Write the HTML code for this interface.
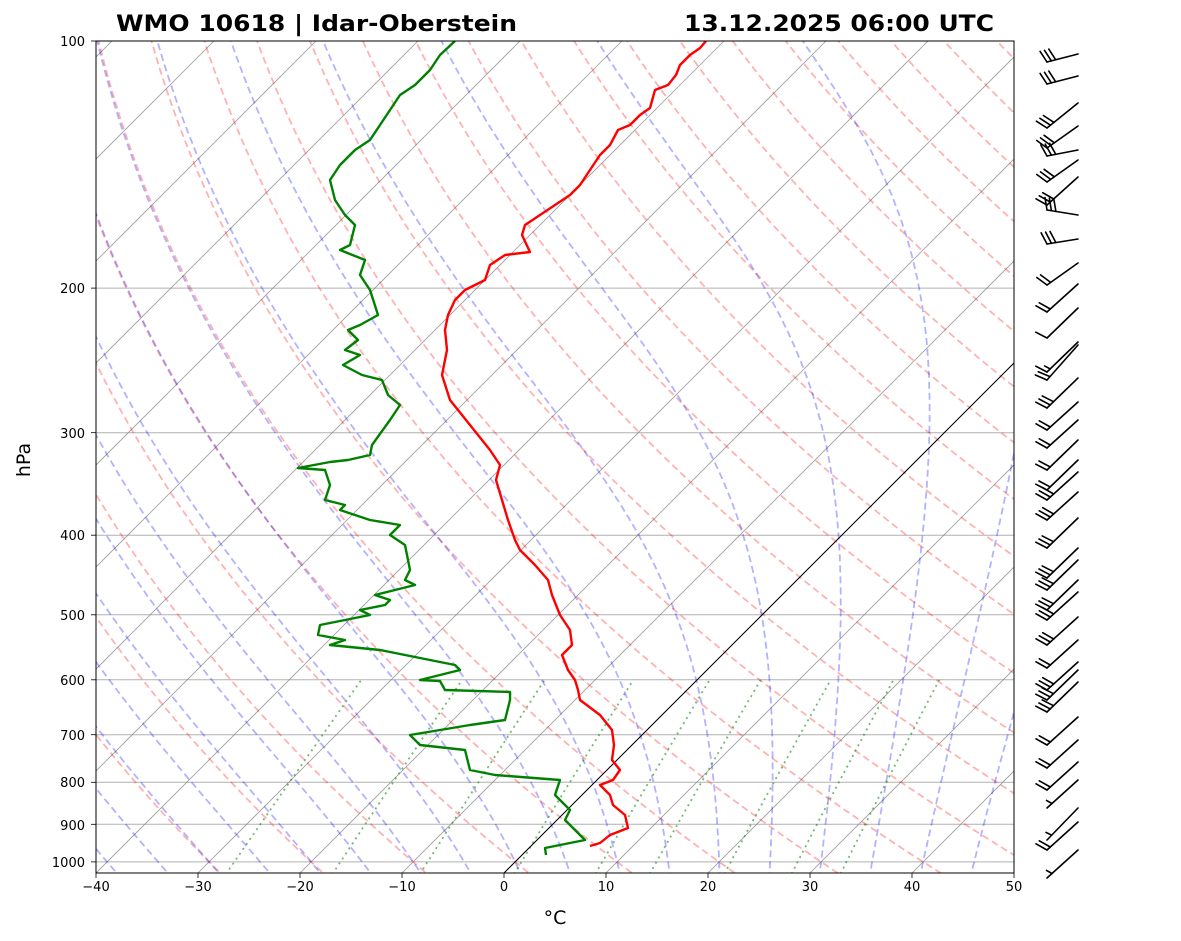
<!DOCTYPE html>
<html><head><meta charset="utf-8"><style>
body{margin:0;background:#fff;}
svg{display:block;font-family:"DejaVu Sans","Liberation Sans",sans-serif;}
</style></head><body>
<svg id="s" width="1181" height="941" viewBox="0 0 1181 941" xmlns="http://www.w3.org/2000/svg">
<defs><clipPath id="c"><rect x="96" y="41" width="918" height="832"/></clipPath></defs>
<g id="bg" clip-path="url(#c)"></g>
<g id="prof" clip-path="url(#c)"></g>
<rect x="96" y="41" width="918" height="832" fill="none" stroke="#000" stroke-width="1"/>
<g id="ticks" stroke="#000" stroke-width="0.8"></g>
<g font-size="13" fill="#000" text-anchor="end">
<text x="85" y="46">100</text><text x="85" y="293">200</text><text x="85" y="438">300</text>
<text x="85" y="540">400</text><text x="85" y="620">500</text><text x="85" y="685">600</text>
<text x="85" y="740">700</text><text x="85" y="787">800</text><text x="85" y="830">900</text>
<text x="85" y="867">1000</text>
</g>
<g font-size="13" fill="#000" text-anchor="middle">
<text x="96" y="891">−40</text><text x="198" y="891">−30</text><text x="300" y="891">−20</text>
<text x="402" y="891">−10</text><text x="504" y="891">0</text><text x="606" y="891">10</text>
<text x="708" y="891">20</text><text x="810" y="891">30</text><text x="912" y="891">40</text>
<text x="1014" y="891">50</text>
</g>
<text x="555" y="924" font-size="19" text-anchor="middle">°C</text>
<text x="30" y="460" font-size="19" text-anchor="middle" transform="rotate(-90 30 460)">hPa</text>
<text x="116" y="31" font-size="22" font-weight="bold" textLength="401" lengthAdjust="spacingAndGlyphs">WMO 10618 | Idar-Oberstein</text>
<text x="684" y="31" font-size="22" font-weight="bold" textLength="310" lengthAdjust="spacingAndGlyphs">13.12.2025 06:00 UTC</text>
<g id="barbs" stroke="#000" stroke-width="1.6" fill="none" stroke-linecap="round"></g>
</svg>
<script>
var NS="http://www.w3.org/2000/svg";
function Y(p){return 41+356.5*Math.log(p/100);}
function X(T,p){return 96+(T+40)*10.2+(873-Y(p));}
function line(g,pts,attrs){var e=document.createElementNS(NS,"polyline");e.setAttribute("points",pts.map(function(q){return q[0].toFixed(1)+","+q[1].toFixed(1)}).join(" "));e.setAttribute("fill","none");for(var k in attrs)e.setAttribute(k,attrs[k]);g.appendChild(e);}
var bg=document.getElementById("bg");
var P=[];for(var p=1050;p>=98;p-=5)P.push(p);
[100,200,300,400,500,600,700,800,900,1000].forEach(function(p){line(bg,[[96,Y(p)],[1014,Y(p)]],{stroke:"#b0b0b0","stroke-width":1});});
for(var T=-150;T<=50;T+=10){line(bg,[[X(T,1050),Y(1050)],[X(T,100),Y(100)]],{stroke:"#888","stroke-width":0.8,"stroke-opacity":0.85});}
for(var t0=-30;t0<=200;t0+=10){var pts=[];P.forEach(function(p){var T=(t0+273.15)*Math.pow(p/1000,0.2857)-273.15;pts.push([X(T,p),Y(p)]);});line(bg,pts,{stroke:"#ff0000","stroke-opacity":0.3,"stroke-width":1.8,"stroke-dasharray":"7,4"});}
function es(T){return 6.112*Math.exp(17.67*T/(T+243.5));}
function dTdp(T,p){var Tk=T+273.15,rs=0.622*es(T)/(p-es(T));var Rd=287,Cp=1005,L=2.501e6;return (1/p)*(Rd*Tk+L*rs)/(Cp+L*L*rs*0.622/(Rd*Tk*Tk));}
function integ(T,p0,p1,n){var pts=[];var h=(p1-p0)/n;var p=p0;for(var i=0;i<=n;i++){pts.push([X(T,p),Y(p)]);var k1=dTdp(T,p),k2=dTdp(T+h*k1/2,p+h/2),k3=dTdp(T+h*k2/2,p+h/2),k4=dTdp(T+h*k3,p+h);T+=h*(k1+2*k2+2*k3+k4)/6;p+=h;}return pts;}
for(var t0=-40;t0<=70;t0+=5){var up=integ(t0,1000,100,180),dn=integ(t0,1000,1050,10);line(bg,dn.reverse().concat(up),{stroke:"#0000ff","stroke-opacity":0.3,"stroke-width":1.8,"stroke-dasharray":"7,4"});}
[0.0004,0.001,0.002,0.004,0.007,0.01,0.016,0.024,0.032].forEach(function(w){var pts=[];for(var p=1050;p>=600;p-=10){var e=p*w/(0.622+w);var l=Math.log(e/6.112);var Td=243.5*l/(17.67-l);pts.push([X(Td,p),Y(p)]);}line(bg,pts,{stroke:"#008000","stroke-opacity":0.55,"stroke-width":1.8,"stroke-dasharray":"2,4"});});
line(bg,[[X(0,1050),Y(1050)],[X(0,100),Y(100)]],{stroke:"#000","stroke-width":1});
var tk=document.getElementById("ticks");
for(var T=-40;T<=50;T+=10){var x=96+(T+40)*10.2;line(tk,[[x,873],[x,878]],{});}
[100,200,300,400,500,600,700,800,900,1000].forEach(function(p){line(tk,[[91,Y(p)],[96,Y(p)]],{});});
var pr=document.getElementById("prof");
var red=[[706,41],[700,48],[690,55],[680,65],[676,75],[668,85],[655,90],[650,108],[640,115],[630,125],[618,130],[610,145],[600,155],[590,170],[580,185],[570,195],[555,205],[540,215],[525,225],[522,235],[530,252],[505,255],[490,265],[485,280],[465,290],[455,300],[448,315],[445,330],[447,350],[442,375],[450,400],[470,425],[490,450],[500,465],[496,480],[502,500],[508,520],[515,540],[520,550],[535,565],[548,580],[552,595],[560,615],[570,630],[572,645],[562,655],[568,670],[575,680],[578,690],[580,700],[600,715],[612,730],[614,745],[612,760],[620,770],[613,780],[600,785],[610,795],[613,805],[625,815],[628,828],[610,835],[600,843],[590,846]];
var grn=[[455,41],[440,55],[430,70],[415,85],[400,95],[390,110],[380,125],[370,140],[355,150],[340,165],[330,180],[335,200],[345,215],[355,225],[350,245],[340,250],[365,260],[360,275],[370,290],[378,315],[360,325],[348,330],[358,340],[345,350],[360,355],[343,365],[362,375],[382,380],[388,395],[400,405],[390,420],[372,445],[370,455],[348,460],[330,462],[298,468],[325,470],[330,485],[325,500],[345,505],[340,510],[370,520],[400,525],[390,535],[405,545],[410,570],[405,580],[415,585],[395,590],[375,595],[390,600],[385,605],[360,610],[370,615],[320,625],[318,635],[345,640],[330,645],[380,650],[430,660],[455,665],[460,670],[440,675],[420,680],[440,681],[445,690],[510,692],[510,700],[505,720],[470,725],[410,735],[420,745],[465,750],[470,770],[495,775],[560,780],[555,795],[570,810],[565,820],[575,830],[585,840],[545,848],[546,855]];
line(pr,red,{stroke:"#ff0000","stroke-width":2.4,"stroke-linejoin":"round"});
line(pr,grn,{stroke:"#008000","stroke-width":2.4,"stroke-linejoin":"round"});
var bb=document.getElementById("barbs");
var B=[[62,-8,3],[84,-8,3],[128,-25,3],[148,-22,3],[156,-6,3],[182,-22,3],[205,-28,3],[210,5,3],[244,-5,3],[285,-22,2],[312,-28,2],[338,-30,1],[372,-30,1.5],[380,-35,2],[408,-30,3],[430,-28,2],[448,-28,2],[470,-30,2],[490,-30,2],[500,-28,3],[520,-28,3],[548,-30,3],[578,-30,3],[590,-30,3],[610,-30,3],[620,-28,3],[645,-28,3],[668,-28,2],[690,-28,3],[700,-30,3],[712,-30,3],[745,-28,2],[768,-28,2],[790,-28,2],[808,-28,0.5],[840,-32,0.5],[850,-28,2],[878,-28,0.5]];
B.forEach(function(b){var bx=1047,by=b[0],ex=1078,ey=by+b[1];line(bb,[[bx,by],[ex,ey]],{});var dx=ex-bx,dy=ey-by,L=Math.sqrt(dx*dx+dy*dy),ux=dx/L,uy=dy/L;var px=uy,py=-ux;if(py>0){px=-px;py=-py;}
var n=b[2],full=Math.floor(n);for(var i=0;i<full;i++){var sx=bx+ux*i*4.5,sy=by+uy*i*4.5;line(bb,[[sx,sy],[sx+(px*12-ux*4),sy+(py*12-uy*4)]],{});}
if(n%1){var i2=full==0?1.5:full;var sx=bx+ux*i2*4.5,sy=by+uy*i2*4.5;line(bb,[[sx,sy],[sx+(px*6-ux*2),sy+(py*6-uy*2)]],{});}});
</script>
</body></html>
